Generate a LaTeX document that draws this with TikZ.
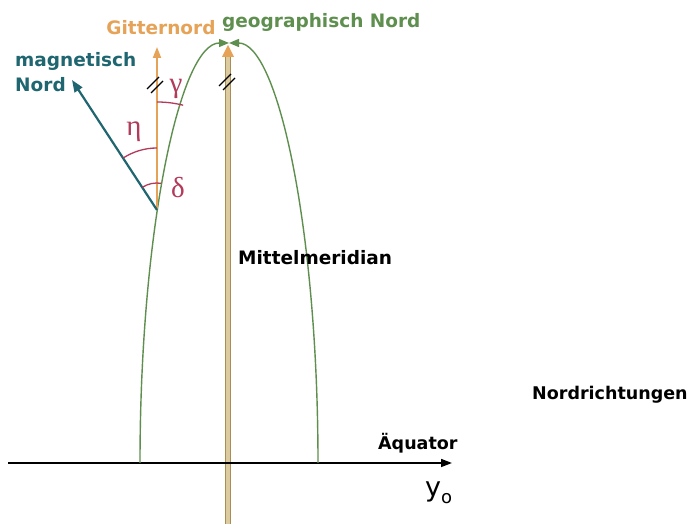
\documentclass[tikz,border=0pt]{standalone}
\usepackage{fontspec}
\setmainfont{DejaVu Sans}
\newfontfamily\greekfont{Liberation Serif}
\usetikzlibrary{arrows.meta}
\definecolor{gridor}{HTML}{E6A358}
\definecolor{geogr}{HTML}{5E8F4E}
\definecolor{magn}{HTML}{1F6670}
\definecolor{angc}{HTML}{B23A5A}
\definecolor{merlight}{HTML}{DCCB9E}
\definecolor{merdark}{HTML}{A88E55}
\begin{document}
\begin{tikzpicture}[x=1pt,y=1pt,
  lbl/.style={inner sep=0pt, font=\bfseries\fontsize{18.5}{22}\selectfont},
  smalllbl/.style={inner sep=0pt, font=\bfseries\fontsize{17.5}{21}\selectfont},
  greek/.style={inner sep=0pt, text=angc, font=\greekfont\fontsize{29}{31}\selectfont},
  anglearc/.style={draw=angc, line width=1.3pt},
  slashmark/.style={draw=black, line width=1.2pt},
  geoline/.style={draw=geogr, line width=1.4pt, -{Triangle[length=10pt,width=8pt]}}]
\useasboundingbox (0,0) rectangle (688,524);
\fill[white] (0,0) rectangle (688,524);
% named points
\coordinate (O) at (157,314);
\coordinate (G) at (157,477);
\coordinate (M) at (72,444);
\coordinate (E0) at (8,61);
\coordinate (E1) at (452,61);
\coordinate (EL) at (140,61);
\coordinate (ER) at (318,61);
\coordinate (MB) at (228,0);
\coordinate (MT) at (228,467);
\coordinate (MTip) at (228,479);
\coordinate (S1) at (155,439);
\coordinate (S2) at (227,442);
% central meridian
\draw[merdark, line width=6.5pt] (MB) -- (MT);
\draw[merlight, line width=4pt] (MB) -- (MT);
\fill[gridor] ([xshift=-6pt]MT) -- (MTip) -- ([xshift=6pt]MT) -- cycle;
% equator
\draw[black, line width=1.6pt, -{Triangle[length=11pt,width=8pt]}] (E0) -- (E1);
% geographic meridian (ellipse)
\draw[geoline] (EL) arc[start angle=180, end angle=90, x radius=89, y radius=420];
\draw[geoline] (ER) arc[start angle=0, end angle=90, x radius=89, y radius=420];
% grid north
\draw[gridor, line width=1.9pt, -{Triangle[length=11pt,width=8pt]}] (O) -- (G);
% magnetic north
\draw[magn, line width=2.2pt, -{Triangle[length=12pt,width=9pt]}] (O) -- (M);
% parallel marks
\foreach \c in {S1,S2} {
  \draw[slashmark] ([shift={(-8,-4)}]\c) -- ([shift={(4,8)}]\c);
  \draw[slashmark] ([shift={(-4,-8)}]\c) -- ([shift={(8,4)}]\c);
}
% angle arcs
\draw[anglearc] ([shift={(90:108)}]O) arc[start angle=90, end angle=76, radius=108];
\draw[anglearc] ([shift={(90:62)}]O) arc[start angle=90, end angle=123, radius=62];
\draw[anglearc] ([shift={(81:27)}]O) arc[start angle=81, end angle=123, radius=27];
\node[greek] (gam) at (176,435) {γ};
\node[greek] (eta) at (134,392) {η};
\node[greek] (del) at (178,336) {δ};
% labels
\node[lbl, text=gridor, anchor=base] (tGit) at (161,489) {Gitternord};
\node[lbl, text=geogr, anchor=base west] (tGeo) at (222,496) {geographisch Nord};
\node[lbl, text=magn, anchor=base west] (tMag1) at (15,457) {magnetisch};
\node[lbl, text=magn, anchor=base west] (tMag2) at (15,432) {Nord};
\node[lbl, text=black, anchor=base west] (tMer) at (238,259) {Mittelmeridian};
\node[smalllbl, text=black, anchor=base west] (tNR) at (532,124) {Nordrichtungen};
\node[smalllbl, text=black, anchor=base west] (tAeq) at (378,74) {Äquator};
\node[inner sep=0pt, anchor=base west, font=\fontsize{27}{29}\selectfont] (tY) at (425,27) {y\raisebox{-7pt}{\fontsize{18}{19}\selectfont o}};
\end{tikzpicture}
\end{document}
